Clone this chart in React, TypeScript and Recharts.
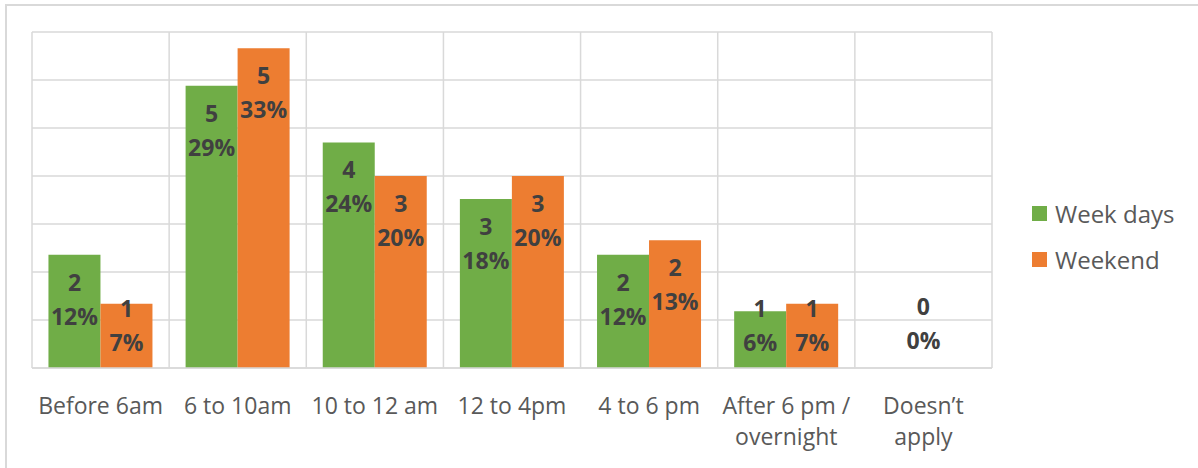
import React from 'react'
import { BarChart, Bar, XAxis, YAxis, CartesianGrid, Legend, LabelList } from 'recharts'

const categories = [
  'Before 6am',
  '6 to 10am',
  '10 to 12 am',
  '12 to 4pm',
  '4 to 6 pm',
  'After 6 pm /\novernight',
  'Doesn\u2019t\napply',
]

const weekDaysPct = [11.8, 29.4, 23.5, 17.6, 11.8, 5.9, 0]
const weekendPct = [6.7, 33.3, 20, 20, 13.3, 6.7, 0]
const weekDaysCount = [2, 5, 4, 3, 2, 1, 0]
const weekendCount = [1, 5, 3, 3, 2, 1, 0]
const yTicks = [0, 5, 10, 15, 20, 25, 30, 35]

const data = categories.map((name, i) => ({
  name,
  weekDays: weekDaysPct[i],
  weekend: weekendPct[i],
}))

const FONT = '"Open Sans", "Noto Sans", sans-serif'
const GRID = '#d9d9d9'
const LABEL_COLOR = '#404040'

function DataLabelText({ x, y, count, pct }: { x: number; y: number; count: number; pct: number }) {
  return (
    <g>
      <text x={x} y={y} textAnchor="middle" dominantBaseline="central"
        fill={LABEL_COLOR} fontSize={23} fontWeight={700} fontFamily={FONT}>
        {count}
      </text>
      <text x={x} y={y + 34} textAnchor="middle" dominantBaseline="central"
        fill={LABEL_COLOR} fontSize={23} fontWeight={700} fontFamily={FONT}>
        {Math.round(pct)}%
      </text>
    </g>
  )
}

function CategoryTick(props: any) {
  const { x, y, payload, index } = props
  const lines = String(payload.value).split('\n')
  // when both series are zero the bars vanish, so the shared label sits above the axis
  const empty = weekDaysPct[index] === 0 && weekendPct[index] === 0
  return (
    <g>
      {empty && <DataLabelText x={x} y={y - 70} count={weekDaysCount[index]} pct={weekDaysPct[index]} />}
      <text x={x} y={y + 29} textAnchor="middle" fill="#595959" fontSize={23} fontFamily={FONT}>
        {lines.map((line, i) => (
          <tspan key={i} x={x} dy={i === 0 ? 0 : 31} dominantBaseline="central">
            {line}
          </tspan>
        ))}
      </text>
    </g>
  )
}

// two-line data label: count on top, percentage under it
function makeLabel(counts: number[]) {
  return (props: any) => {
    const { x, y, width, value, index } = props
    if (!value) return null
    return <DataLabelText x={x + width / 2} y={Math.min(y + 27, 308)} count={counts[index]} pct={value} />
  }
}

function LegendContent(props: any) {
  const { payload } = props
  return (
    <div style={{ fontFamily: FONT }}>
      {(payload || []).map((entry: any, i: number) => (
        <div key={i} style={{ display: 'flex', alignItems: 'center', height: 46 }}>
          <span style={{ width: 15, height: 15, background: entry.color, display: 'inline-block', marginRight: 8 }} />
          <span style={{ fontSize: 24, color: '#595959' }}>{entry.value}</span>
        </div>
      ))}
    </div>
  )
}

export default function App() {
  return (
    <div style={{ position: 'absolute', left: 0, top: 0, width: 1198, height: 468, background: '#fff' }}>
      <div style={{ position: 'absolute', left: 5, top: 4, width: 1200, height: 462, border: `2px solid ${GRID}` }} />
      <div style={{ position: 'absolute', left: 0, top: 0 }}>
        <BarChart
          width={1198}
          height={468}
          data={data}
          margin={{ top: 32, right: 206, left: 32, bottom: 0 }}
          barCategoryGap="12%"
          barGap={0}
        >
          <CartesianGrid
            stroke={GRID}
            strokeWidth={1.5}
            verticalCoordinatesGenerator={({ offset }: any) =>
              categories.concat(['']).map((_, i) => offset.left + (i * offset.width) / categories.length)
            }
          />
          <XAxis
            dataKey="name"
            height={100}
            interval={0}
            tickLine={false}
            axisLine={{ stroke: GRID, strokeWidth: 1.5 }}
            tick={<CategoryTick />}
          />
          <YAxis hide domain={[0, 35]} ticks={yTicks} />
          <Legend
            layout="horizontal"
            verticalAlign="middle"
            align="center"
            content={<LegendContent />}
            wrapperStyle={{ position: 'absolute', left: 1032, top: 190, width: 160 }}
          />
          <Bar dataKey="weekDays" name="Week days" fill="#70ad47" isAnimationActive={false}>
            <LabelList dataKey="weekDays" content={makeLabel(weekDaysCount)} />
          </Bar>
          <Bar dataKey="weekend" name="Weekend" fill="#ed7d31" isAnimationActive={false}>
            <LabelList dataKey="weekend" content={makeLabel(weekendCount)} />
          </Bar>
        </BarChart>
      </div>
    </div>
  )
}
